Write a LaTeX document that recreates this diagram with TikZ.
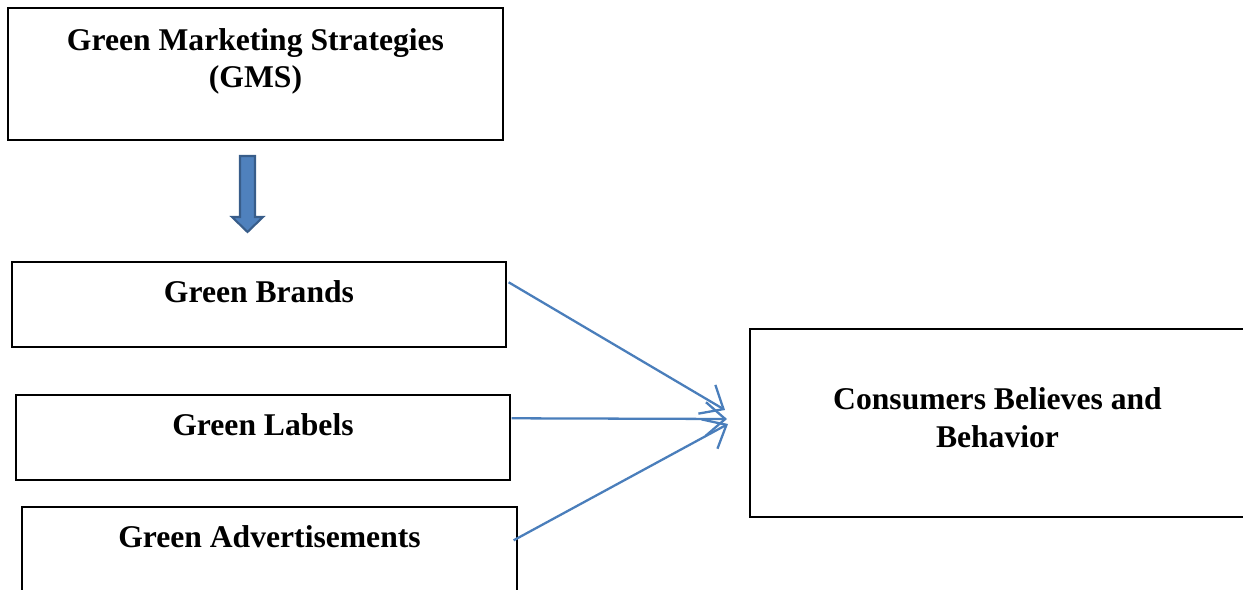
\documentclass[tikz,border=0pt]{standalone}
\usepackage{fontspec}
\setmainfont{Liberation Serif}
\usetikzlibrary{positioning, calc, arrows.meta}
\definecolor{Link}{HTML}{4A7EBB}
\definecolor{BlockFill}{HTML}{4F81BD}
\definecolor{BlockEdge}{HTML}{385D8A}
\tikzset{
    box/.style={rectangle, draw=black, line width=0.8pt, inner sep=0pt},
    stagebox/.style={box, minimum width=9.88cm, minimum height=1.7cm},
    boxtext/.style={align=center, font=\bfseries\fontsize{18}{21.5}\selectfont, inner sep=0pt},
    link/.style={-{Straight Barb[length=11pt, width=19pt, line width=1.3pt]}, color=Link, line width=1.3pt},
    blockarrow/.style={fill=BlockFill, draw=BlockEdge, line width=1.2pt},
}

\begin{document}
\begin{tikzpicture}[x=0.02cm, y=0.02cm]
    \useasboundingbox (0,0) rectangle (1243,590);

    % Strategie
    \node[box, minimum width=9.9cm, minimum height=2.64cm] (gms) at (255.5,516) {};
    \node[boxtext] (gmstext) at ($(gms.north)+(0,-54)$) {Green Marketing Strategies\\(GMS)};

    % Freccia piena
    \filldraw[blockarrow] (240,434) -- (255,434) -- (255,373) -- (263,373) -- (247.5,358) -- (232,373) -- (240,373) -- cycle;

    % Le tre leve
    \node[stagebox] (brands) at (259,285.5) {};
    \node[boxtext] (brandstext) at ($(brands.north)+(0,-30)$) {Green Brands};
    \node[stagebox] (labels) at (263,152.5) {};
    \node[boxtext] (labelstext) at ($(labels.north)+(0,-30)$) {Green Labels};
    \node[stagebox, minimum width=9.9cm] (adverts) at (269.5,40.5) {};
    \node[boxtext] (advertstext) at ($(adverts.north)+(0,-30)$) {Green Advertisements};

    % Consumatori
    \node[box, minimum width=10cm, minimum height=3.76cm] (consumers) at (1000,167) {};
    \node[boxtext] (consumerstext) at ($(consumers.north)+(-2.5,-89.5)$) {Consumers Believes and\\Behavior};

    % Collegamenti
    \coordinate (hubA) at (725,180);
    \coordinate (hubB) at (727,171);
    \coordinate (hubC) at (728,166);
    \draw[link] ($(brands.north east)+(2,-21)$) -- (hubA);
    \draw[link] ($(labels.north east)+(1,-24)$) -- (hubB);
    \draw[link] ($(adverts.north east)+(-4,-34)$) -- (hubC);
\end{tikzpicture}
\end{document}
